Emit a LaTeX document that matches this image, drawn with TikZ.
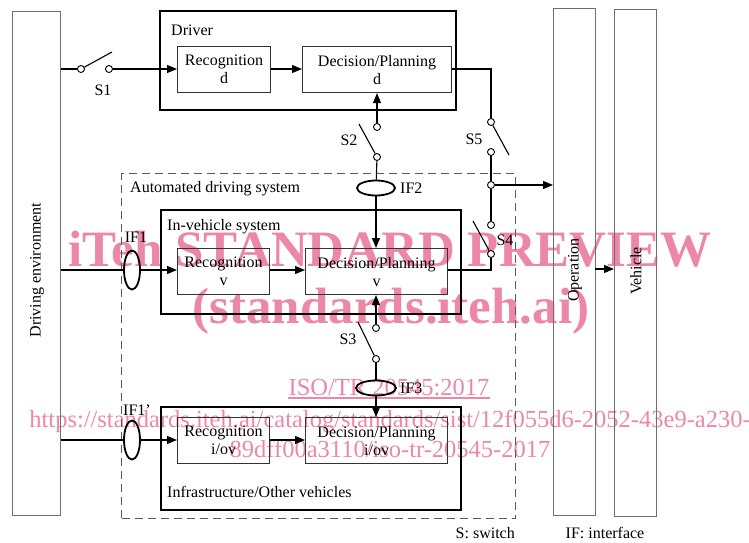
\documentclass[tikz,border=0pt]{standalone}
\usepackage{fontspec}
\setmainfont{Liberation Serif}
\newfontfamily\wmfont{Liberation Serif}
\usetikzlibrary{arrows.meta,shapes.geometric,calc}
\definecolor{wmpink}{RGB}{236,136,166}
\definecolor{boxgray}{RGB}{110,110,110}
\definecolor{dashgray}{RGB}{90,90,90}
\begin{document}
\begin{tikzpicture}[x=1pt,y=-1pt,
  font=\fontsize{16}{18}\selectfont,
  outerbox/.style={draw=boxgray,line width=1.4pt,anchor=north west,inner sep=0pt},
  thickbox/.style={draw=black,line width=2.4pt,anchor=north west,inner sep=0pt},
  funcbox/.style={draw=black!80,line width=1.1pt,anchor=north west,inner sep=0pt,align=center},
  dashbox/.style={draw=dashgray,line width=1.2pt,dash pattern=on 8pt off 5pt,anchor=north west,inner sep=0pt},
  sw/.style={circle,draw=black,fill=white,line width=0.9pt,inner sep=0pt,minimum size=7pt},
  ifell/.style={ellipse,draw=black,line width=1.8pt,inner sep=0pt},
  conn/.style={draw=black,line width=1.1pt},
  arr/.style={conn,-{Triangle[length=10pt,width=8pt]}},
  lbl/.style={inner sep=0pt},
  wm/.style={text=wmpink,inner sep=0pt,anchor=base}]
\useasboundingbox (0,0) rectangle (749,542);

% watermark (multiplied)
\begin{scope}[blend mode=multiply]
\node[wm,font=\wmfont\bfseries\fontsize{51}{51}\selectfont] (wm1) at (390,266) {iTeh STANDARD PREVIEW};
\node[wm,font=\wmfont\bfseries\fontsize{51}{51}\selectfont] (wm2) at (391,323) {(standards.iteh.ai)};
\node[wm,font=\wmfont\fontsize{24.5}{26}\selectfont] (wm3) at (389,395) {ISO/TR 20545:2017};
\draw[wmpink,line width=1.2pt] ([yshift=-3pt]wm3.base west) -- ([yshift=-3pt]wm3.base east);
\node[wm,font=\wmfont\fontsize{24.5}{26}\selectfont] (wm4) at (390,427) {https://standards.iteh.ai/catalog/standards/sist/12f055d6-2052-43e9-a230-};
\node[wm,font=\wmfont\fontsize{24.5}{26}\selectfont] (wm5) at (390,457) {89dff00a3110/iso-tr-20545-2017};
\end{scope}

% outer boxes
\node[outerbox,minimum width=48pt,minimum height=504pt] (env) at (12,11) {};
\node[outerbox,minimum width=42pt,minimum height=507pt] (op) at (553,8) {};
\node[outerbox,minimum width=42pt,minimum height=507pt] (veh) at (614,9) {};
\node[lbl,rotate=90] (envl) at (37,270) {Driving environment};
\node[lbl,rotate=90] (opl) at (575,270) {Operation};
\node[lbl,rotate=90] (vehl) at (636,271) {Vehicle};

% driver
\node[thickbox,minimum width=296pt,minimum height=99pt] (driver) at (159,10) {};
\node[lbl,anchor=west] (driverl) at (171,30) {Driver};
\node[funcbox,minimum width=93pt,minimum height=46pt] (recd) at (177,46) {Recognition\\d};
\node[funcbox,minimum width=149pt,minimum height=46pt] (decd) at (302,46) {Decision/Planning\\d};

% automated driving system
\node[dashbox,minimum width=394pt,minimum height=345pt] (ads) at (121,173) {};
\node[lbl,anchor=west] (adsl) at (130,189) {Automated driving system};

\node[thickbox,minimum width=300pt,minimum height=104pt] (ivs) at (160,209) {};
\node[lbl,anchor=west] (ivsl) at (167,227) {In-vehicle system};
\node[funcbox,minimum width=92pt,minimum height=46pt] (recv) at (177,248) {Recognition\\v};
\node[funcbox,minimum width=142pt,minimum height=46pt] (decv) at (305,248) {Decision/Planning\\v};

\node[thickbox,minimum width=300pt,minimum height=103pt] (infra) at (160,406) {};
\node[lbl,anchor=west] (infral) at (167,492) {Infrastructure/Other vehicles};
\node[funcbox,minimum width=92pt,minimum height=46pt] (reci) at (177,417) {Recognition\\i/ov};
\node[funcbox,minimum width=142pt,minimum height=46pt] (deci) at (305,417) {Decision/Planning\\i/ov};

% interfaces
\node[ifell,minimum width=38pt,minimum height=15pt] (if2) at (376,188) {};
\node[ifell,minimum width=40pt,minimum height=15pt] (if3) at (376,388) {};
\node[ifell,minimum width=16pt,minimum height=39pt] (if1) at (132,270) {};
\node[ifell,minimum width=16pt,minimum height=39pt] (if1p) at (132,440) {};
\node[lbl,anchor=west] (if2l) at (400,188) {IF2};
\node[lbl,anchor=west] (if3l) at (400,388) {IF3};
\node[lbl] (if1l) at (136,237) {IF1};
\node[lbl] (if1pl) at (137,410) {IF1’};

% switches
\node[sw] (s1a) at (81,69) {};
\node[sw] (s1b) at (109,69) {};
\coordinate (b1) at (112,52);
\node[lbl] (s1l) at (103,90) {S1};

\node[sw] (s2a) at (377,127) {};
\node[sw] (s2b) at (377,157) {};
\coordinate (b2) at (359,124);
\node[lbl] (s2l) at (349,140) {S2};

\node[sw] (s5a) at (491,122) {};
\node[sw] (s5b) at (491,152) {};
\coordinate (b5) at (509,155);
\node[lbl] (s5l) at (474,139) {S5};

\node[sw] (jn) at (491,185) {};

\node[sw] (s4a) at (491,225) {};
\node[sw] (s4b) at (491,254) {};
\coordinate (b4) at (473,221);
\node[lbl] (s4l) at (505,240) {S4};

\node[sw] (s3a) at (376,328) {};
\node[sw] (s3b) at (376,359) {};
\coordinate (b3) at (358,322);
\node[lbl] (s3l) at (348,339) {S3};

% connectors
\draw[conn] (env.east |- s1a) -- (s1a);
\draw[conn] (s1a) -- (b1);
\draw[arr] (s1b) -- (recd.west |- s1b);
\draw[arr] (recd.east |- s1b) -- (decd.west |- s1b);
\draw[conn] (decd.east |- s1b) -| (s5a);
\draw[conn] (s5a) -- (b5);
\draw[conn] (s5b) -- (jn);
\draw[arr] (jn) -- (op.west |- jn);
\draw[conn] (jn) -- (s4a);
\draw[conn] (b4) -- (s4b);
\coordinate (c4) at (491,270);
\draw[conn] (s4b) -- (c4) -- (decv.east |- c4);

\draw[arr] (s2a) -- (decd.south -| s2a);
\draw[conn] (b2) -- (s2b);
\draw[conn] (s2b) -- (if2);
\draw[arr] (if2) -- (decv.north -| if2);

\draw[conn] (env.east |- if1) -- (if1);
\draw[arr] (if1) -- (recv.west |- if1);
\draw[arr] (recv.east |- if1) -- (decv.west |- if1);

\draw[arr] (s3a) -- (decv.south -| s3a);
\draw[conn] (b3) -- (s3b);
\draw[conn] (s3b) -- (if3);
\draw[arr] (if3) -- (deci.north -| if3);

\draw[conn] (env.east |- if1p) -- (if1p);
\draw[arr] (if1p) -- (reci.west |- if1p);
\draw[arr] (reci.east |- if1p) -- (deci.west |- if1p);

\coordinate (ov) at (595,269);
\draw[arr] (ov) -- (veh.west |- ov);

% legend
\node[lbl,anchor=base east] (legS) at (515,538) {S: switch};
\node[lbl,anchor=base] (legIF) at (605,538) {IF: interface};
\end{tikzpicture}
\end{document}
